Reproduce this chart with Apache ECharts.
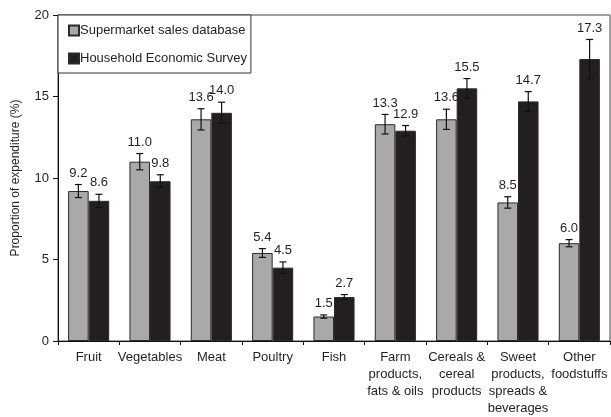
<!DOCTYPE html>
<html>
<head>
<meta charset="utf-8">
<script src="https://cdn.jsdelivr.net/npm/echarts@6/dist/echarts.min.js"></script>
<style>
  html, body { margin: 0; padding: 0; background: #fff; }
  #chart { width: 611px; height: 417px; }
</style>
</head>
<body>
<div id="chart"></div>
<script>
// Food categories and share of expenditure (%) from the two data sources
const categories = [
  'Fruit', 'Vegetables', 'Meat', 'Poultry', 'Fish',
  'Farm\nproducts,\nfats & oils',
  'Cereals &\ncereal\nproducts',
  'Sweet\nproducts,\nspreads &\nbeverages',
  'Other\nfoodstuffs'
];
const supermarket = [9.2, 11.0, 13.6, 5.4, 1.5, 13.3, 13.6, 8.5, 6.0];
const household = [8.6, 9.8, 14.0, 4.5, 2.7, 12.9, 15.5, 14.7, 17.3];
// Half-widths of the error bars
const supermarketErr = [0.4, 0.5, 0.65, 0.27, 0.1, 0.6, 0.62, 0.35, 0.22];
const householdErr = [0.4, 0.4, 0.65, 0.35, 0.15, 0.32, 0.6, 0.6, 1.2];
const yTicks = [0, 5, 10, 15, 20];

const BAR_GAP = 0.33;
const GRAY = '#a9a9a9';
const DARK = '#231f20';

function errorSeries(values, errs, side) {
  return {
    type: 'custom',
    z: 5,
    silent: true,
    data: values.map((v, i) => [i, v, errs[i]]),
    encode: { x: 0, y: 1 },
    renderItem: function (params, api) {
      const cat = api.value(0), v = api.value(1), e = api.value(2);
      const band = api.size([1, 0])[0];
      const barW = band * (1 - BAR_GAP) / 2;
      const c = api.coord([cat, v]);
      const x = c[0] + side * barW / 2;
      const yTop = api.coord([cat, v + e])[1];
      const yBot = api.coord([cat, v - e])[1];
      const cap = 3.5;
      const st = { stroke: '#111', lineWidth: 1.2 };
      return {
        type: 'group',
        children: [
          { type: 'line', shape: { x1: x, y1: yTop, x2: x, y2: yBot }, style: st },
          { type: 'line', shape: { x1: x - cap, y1: yTop, x2: x + cap, y2: yTop }, style: st },
          { type: 'line', shape: { x1: x - cap, y1: yBot, x2: x + cap, y2: yBot }, style: st },
          {
            type: 'text',
            style: {
              x: x, y: yTop - 5,
              text: v.toFixed(1),
              align: 'center', verticalAlign: 'bottom',
              fill: DARK, fontSize: 13, fontFamily: 'Liberation Sans, Arial, sans-serif'
            }
          }
        ]
      };
    }
  };
}

const chart = echarts.init(document.getElementById('chart'));
chart.setOption({
  animation: false,
  backgroundColor: '#fff',
  textStyle: { fontFamily: 'Liberation Sans, Arial, sans-serif' },
  grid: {
    left: 58, right: 1, top: 15, bottom: 71,
    show: true, borderColor: '#444', borderWidth: 1, backgroundColor: 'transparent'
  },
  legend: {
    data: ['Supermarket sales database', 'Household Economic Survey'],
    orient: 'vertical',
    left: 58, top: 15,
    padding: [9, 4, 8, 10],
    itemGap: 15,
    icon: 'rect',
    itemWidth: 10, itemHeight: 10,
    borderColor: '#333', borderWidth: 1,
    backgroundColor: '#fff',
    textStyle: { fontSize: 13, color: DARK, padding: [0, 0, 0, -4] }
  },
  xAxis: {
    type: 'category',
    data: categories,
    axisLine: { lineStyle: { color: '#111' } },
    axisTick: { show: true, length: 4, lineStyle: { color: '#111' } },
    axisLabel: { interval: 0, fontSize: 13, color: DARK, lineHeight: 17, margin: 8 }
  },
  yAxis: {
    type: 'value',
    min: yTicks[0], max: yTicks[yTicks.length - 1], interval: 5,
    name: 'Proportion of expenditure (%)',
    nameLocation: 'middle', nameGap: 36,
    nameTextStyle: { fontSize: 12, color: DARK },
    axisLine: { show: true, lineStyle: { color: '#111' } },
    axisTick: { show: true, length: 5, lineStyle: { color: '#111' } },
    axisLabel: { fontSize: 13, color: DARK, margin: 9 },
    splitLine: { show: false }
  },
  series: [
    {
      name: 'Supermarket sales database',
      type: 'bar',
      data: supermarket,
      barGap: '0%',
      barCategoryGap: (BAR_GAP * 100) + '%',
      itemStyle: { color: GRAY, borderColor: '#2a2a2a', borderWidth: 1 }
    },
    {
      name: 'Household Economic Survey',
      type: 'bar',
      data: household,
      barGap: '0%',
      barCategoryGap: (BAR_GAP * 100) + '%',
      itemStyle: { color: DARK, borderColor: '#2a2a2a', borderWidth: 1 }
    },
    errorSeries(supermarket, supermarketErr, -1),
    errorSeries(household, householdErr, 1)
  ]
});
</script>
</body>
</html>
